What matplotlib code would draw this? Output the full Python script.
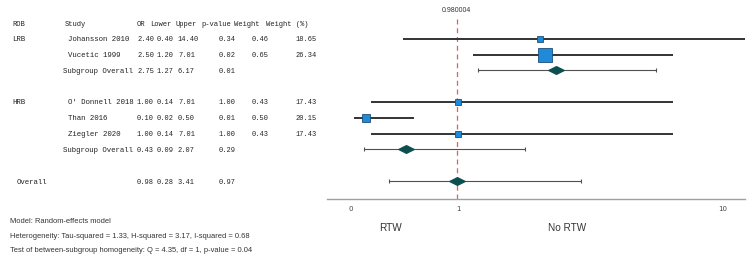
import numpy as np
import matplotlib
matplotlib.use("Agg")
import matplotlib.pyplot as plt
from matplotlib.transforms import blended_transform_factory
from matplotlib.path import Path

# study level data
rob = ['LRB', '', 'HRB', '', '']
studies = ['Johansson 2010', 'Vucetic 1999', "O' Donnell 2018", 'Than 2016', 'Ziegler 2020']
study_rows = [1, 2, 5, 6, 7]
odds = [2.40, 2.50, 1.00, 0.10, 1.00]
lower = [0.40, 1.20, 0.14, 0.02, 0.14]
upper = [14.40, 7.01, 7.01, 0.50, 7.01]
pvals = [0.34, 0.02, 1.00, 0.01, 1.00]
weights = [0.46, 0.65, 0.43, 0.50, 0.43]
weight_pct = [18.65, 26.34, 17.43, 20.15, 17.43]

# pooled estimates
pooled_labels = ['Subgroup Overall', 'Subgroup Overall', 'Overall']
pooled_rows = [3, 8, 10]
pooled_or = [2.75, 0.43, 0.98]
pooled_lower = [1.27, 0.09, 0.28]
pooled_upper = [6.17, 2.07, 3.41]
pooled_p = [0.01, 0.29, 0.97]

ref_value = 0.980004
headers = ['ROB', 'Study', 'OR', 'Lower', 'Upper', 'p-value', 'Weight', 'Weight (%)']
notes = ['Model: Random-effects model',
         'Heterogeneity: Tau-squared = 1.33, H-squared = 3.17, I-squared = 0.68',
         'Test of between-subgroup homogeneity: Q = 4.35, df = 1, p-value = 0.04']

W, H = 750, 255
fig = plt.figure(figsize=(7.5, 2.55), dpi=100)

# forest axes, row 0 = header line
row_h = 15.8
top_px, bot_px, left_px, right_px = 17, 200, 327, 745
ax = fig.add_axes([left_px / W, 1 - bot_px / H, (right_px - left_px) / W, (bot_px - top_px) / H])
ax.set_ylim((bot_px - 24) / row_h, (top_px - 24) / row_h)


def fwd(x):
    return np.log1p(np.maximum(x, -0.999))


def inv(x):
    return np.expm1(x)


ax.set_xscale('function', functions=(fwd, inv))
ax.set_xlim(-0.142, 11.73)

for s in ['top', 'right', 'left']:
    ax.spines[s].set_visible(False)
ax.spines['bottom'].set_color('#a0a0a0')
ax.spines['bottom'].set_linewidth(1.0)
ax.set_yticks([])
ax.set_xticks([0, 1, 10])
ax.set_xticklabels(['0', '1', '10'])
ax.xaxis.set_minor_locator(matplotlib.ticker.NullLocator())
ax.tick_params(axis='x', length=0, pad=4, labelsize=5, labelcolor='#444444')

ax.axvline(ref_value, color='#ee5a5a', ls=(0, (4, 3)), lw=0.9, zorder=1)
ax.text(ref_value, (11 - 24) / row_h, f'{ref_value:.6f}', ha='center', va='center',
        fontsize=5, color='#333333', family='Liberation Sans', clip_on=False)

# study CIs and weighted squares
for r, o, lo, hi, wp in zip(study_rows, odds, lower, upper, weight_pct):
    ax.plot([lo, hi], [r, r], color='#333333', lw=1.4, zorder=2, solid_capstyle='butt')
    size_px = 6 + 0.786 * (wp - 17.43)
    ax.plot(o, r, marker='s', ms=size_px * 0.72, mfc='#1f8ad8', mec='#1d4f78',
            mew=0.6, zorder=3)

# pooled diamonds
diamond = Path([(-1, 0), (0, 0.5), (1, 0), (0, -0.5), (-1, 0)],
               [Path.MOVETO, Path.LINETO, Path.LINETO, Path.LINETO, Path.CLOSEPOLY])
for r, o, lo, hi in zip(pooled_rows, pooled_or, pooled_lower, pooled_upper):
    ax.errorbar(o, r, xerr=[[o - lo], [hi - o]], fmt='none', ecolor='#505050',
                elinewidth=0.8, capsize=1.6, capthick=0.8, zorder=2)
    ax.plot(o, r, marker=diamond, ms=11, mfc='#0d4f4f', mec='#0d4f4f', zorder=3)

# table on the left
tr = blended_transform_factory(fig.transFigure, ax.transData)
mono = dict(family='Liberation Mono', fontsize=5.3, color='#222222', va='center', transform=tr, clip_on=False)
num = dict(mono, fontsize=5.0)
head = dict(mono, fontsize=5.1)
header_x = [12, 65, 137, 150, 176, 201, 234, 266]
for x, h in zip(header_x, headers):
    ax.text(x / W, 0, h, ha='left', **head)

for i, r in enumerate(study_rows):
    if rob[i]:
        ax.text(12 / W, r, rob[i], ha='left', **mono)
    ax.text(68 / W, r, studies[i], ha='left', **mono)
    ax.text(137 / W, r, f'{odds[i]:.2f}', ha='left', **num)
    ax.text(174 / W, r, f'{lower[i]:.2f}', ha='right', **num)
    ax.text(178 / W, r, f'{upper[i]:.2f}', ha='left', **num)
    ax.text(236 / W, r, f'{pvals[i]:.2f}', ha='right', **num)
    ax.text(252 / W, r, f'{weights[i]:.2f}', ha='left', **num)
    ax.text(317 / W, r, f'{weight_pct[i]:.2f}', ha='right', **num)

for i, r in enumerate(pooled_rows):
    lx = 63 if pooled_labels[i] != 'Overall' else 17
    ax.text(lx / W, r, pooled_labels[i], ha='left', **mono)
    ax.text(137 / W, r, f'{pooled_or[i]:.2f}', ha='left', **num)
    ax.text(174 / W, r, f'{pooled_lower[i]:.2f}', ha='right', **num)
    ax.text(178 / W, r, f'{pooled_upper[i]:.2f}', ha='left', **num)
    ax.text(236 / W, r, f'{pooled_p[i]:.2f}', ha='right', **num)

# direction labels
fig.text(391 / W, 1 - 228 / H, 'RTW', ha='center', va='center', fontsize=7.2,
         color='#333333', family='Liberation Sans')
fig.text(567 / W, 1 - 228 / H, 'No RTW', ha='center', va='center', fontsize=7.2,
         color='#333333', family='Liberation Sans')

# model notes
for k, line in enumerate(notes):
    fig.text(10 / W, 1 - (222 + 14.3 * k) / H, line, ha='left', va='center',
             fontsize=5.4, color='#333333', family='Liberation Sans')

fig.savefig('out.png', dpi=100, facecolor='white')
